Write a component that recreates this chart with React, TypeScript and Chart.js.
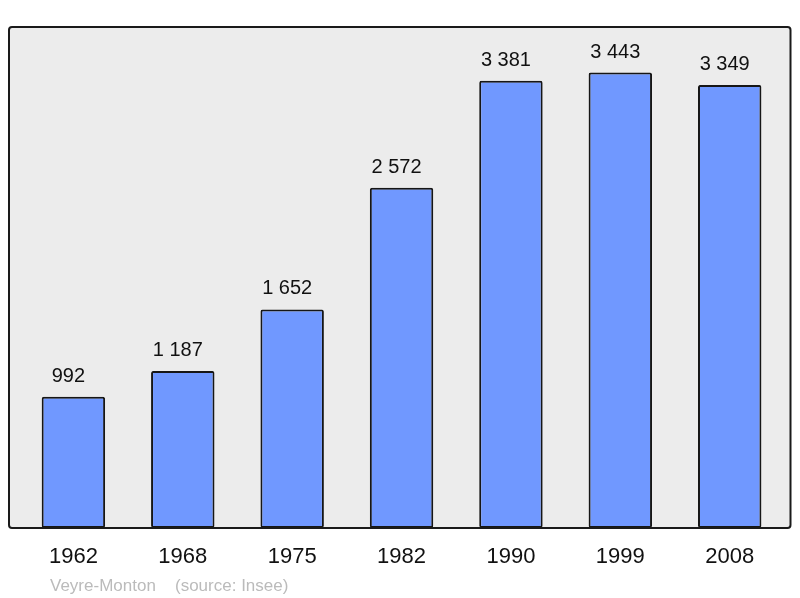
import React, { useEffect, useRef } from "react";
import { Chart, registerables } from "chart.js";

Chart.register(...registerables);

const years = ["1962", "1968", "1975", "1982", "1990", "1999", "2008"];
const population = [992, 1187, 1652, 2572, 3381, 3443, 3349];
const placeName = "Veyre-Monton";
const sourceText = "(source: Insee)";

const fmt = (v: number) => String(v).replace(/\B(?=(\d{3})+(?!\d))/g, " ");

const FONT = "'Liberation Sans', Arial, sans-serif";

const framePlugin = {
  id: "frame",
  beforeDraw(chart: any) {
    const { ctx, chartArea } = chart;
    const x0 = 9, x1 = 790.5, y0 = 27, y1 = chartArea.bottom;
    ctx.save();
    ctx.beginPath();
    (ctx as any).roundRect(x0, y0, x1 - x0, y1 - y0, 3);
    ctx.fillStyle = "#ececec";
    ctx.fill();
    ctx.restore();
  },
  afterDatasetsDraw(chart: any) {
    const { ctx, chartArea } = chart;
    const x0 = 9, x1 = 790.5, y0 = 27, y1 = chartArea.bottom;
    ctx.save();
    ctx.beginPath();
    (ctx as any).roundRect(x0, y0, x1 - x0, y1 - y0, 3);
    ctx.lineWidth = 2;
    ctx.strokeStyle = "#1a1a1a";
    ctx.stroke();
    // value labels
    const meta = chart.getDatasetMeta(0);
    ctx.font = `20px ${FONT}`;
    ctx.fillStyle = "#111";
    ctx.textAlign = "center";
    ctx.textBaseline = "alphabetic";
    meta.data.forEach((bar: any, i: number) => {
      ctx.fillText(fmt(population[i]), bar.x - 5, bar.y - 15);
    });
    // source
    ctx.font = `17px ${FONT}`;
    ctx.fillStyle = "#bbbbbb";
    ctx.textAlign = "left";
    ctx.fillText(placeName, 50, 591);
    ctx.fillText(sourceText, 175, 591);
    ctx.restore();
  },
};

export default function App() {
  const ref = useRef<HTMLCanvasElement>(null);
  useEffect(() => {
    document.body.style.margin = "0";
    const chart = new Chart(ref.current!, {
      type: "bar",
      data: {
        labels: years,
        datasets: [
          {
            data: population,
            backgroundColor: "#7098ff",
            borderColor: "#161616",
            borderWidth: 2,
            borderRadius: 2,
            borderSkipped: false,
            categoryPercentage: 1,
            barPercentage: 0.58,
          },
        ],
      },
      options: {
        responsive: false,
        animation: false,
        layout: { padding: { left: 18.7, right: 15.6, top: 27, bottom: 0 } },
        plugins: { legend: { display: false }, tooltip: { enabled: false } },
        scales: {
          x: {
            grid: { display: false, drawTicks: false },
            border: { display: false },
            ticks: {
              color: "#111",
              font: { size: 22, family: FONT },
              padding: 16,
              maxRotation: 0,
            },
            afterFit(scale: any) {
              scale.height = 70;
            },
          },
          y: {
            display: false,
            min: 0,
            max: 3787,
          },
        },
      },
      plugins: [framePlugin],
    });
    return () => chart.destroy();
  }, []);
  return (
    <div style={{ position: "absolute", left: 0, top: 0, width: 800, height: 598 }}>
      <canvas ref={ref} width={800} height={598} style={{ width: 800, height: 598 }} />
    </div>
  );
}
